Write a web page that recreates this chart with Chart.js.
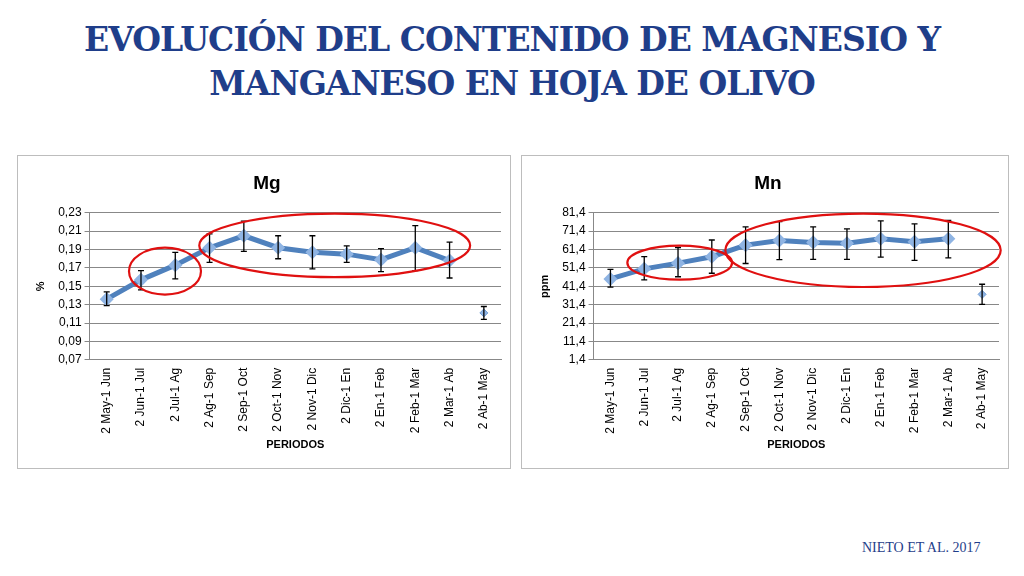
<!DOCTYPE html>
<html><head><meta charset="utf-8">
<script src="https://cdn.jsdelivr.net/npm/chart.js@4"></script>
<style>
body{margin:0;width:1024px;height:576px;background:#fff;position:relative;overflow:hidden;font-family:"Liberation Sans",sans-serif}
h1{position:absolute;left:0;width:1024px;top:18px;margin:0;text-align:center;font-family:"DejaVu Serif",serif;font-weight:bold;font-size:33px;line-height:44px;color:#1f3e8a;letter-spacing:-1px}
.box{position:absolute;top:155px;height:312px;border:1px solid #bdbdbd;background:#fff}
#foot{position:absolute;left:862px;top:540px;font-family:"Liberation Serif",serif;font-size:14px;color:#1f3e8a}
</style></head><body>
<h1>EVOLUCIÓN DEL CONTENIDO DE MAGNESIO Y<br>MANGANESO EN HOJA DE OLIVO</h1>
<div class="box" style="left:17px;width:492px"><canvas id="mg" width="492" height="312"></canvas></div>
<div class="box" style="left:521px;width:486px"><canvas id="mn" width="486" height="312"></canvas></div>
<div id="foot">NIETO ET AL. 2017</div>
<script>
const periods = ["2 May-1 Jun","2 Jun-1 Jul","2 Jul-1 Ag","2 Ag-1 Sep","2 Sep-1 Oct","2 Oct-1 Nov","2 Nov-1 Dic","2 Dic-1 En","2 En-1 Feb","2 Feb-1 Mar","2 Mar-1 Ab","2 Ab-1 May"];
const mgValues = [0.136,0.157,0.173,0.192,0.205,0.192,0.187,0.185,0.179,0.192,0.178,0.121];
const mgHigh = [0.144,0.167,0.187,0.207,0.221,0.205,0.205,0.194,0.191,0.216,0.198,0.128];
const mgLow = [0.129,0.146,0.158,0.176,0.188,0.180,0.169,0.176,0.166,0.167,0.159,0.114];
const mnValues = [45.4,50.9,54.0,57.5,63.8,66.3,65.3,64.8,67.3,65.6,67.3,37.0];
const mnHigh = [50.6,57.5,62.5,66.6,73.7,76.6,73.7,72.7,77.0,75.4,77.3,42.5];
const mnLow = [40.9,44.9,46.6,48.5,53.8,55.9,56.1,56.1,57.3,55.5,56.9,31.5];
const mgTicks = [0.07,0.09,0.11,0.13,0.15,0.17,0.19,0.21,0.23];
const mnTicks = [1.4,11.4,21.4,31.4,41.4,51.4,61.4,71.4,81.4];
// ellipses: [first index, last index, low value, high value]
const mgCircles = [[0.65,2.75,0.141,0.192],[2.7,10.6,0.160,0.229]];
const mnCircles = [[0.5,3.6,45,63.5],[3.4,11.55,41,81]];

const errorBars = {
  id: "errorBars",
  afterDatasetsDraw(chart, args, opts) {
    const {ctx, scales: {x, y}} = chart;
    ctx.save();
    ctx.strokeStyle = "#000"; ctx.lineWidth = 1.3;
    opts.high.forEach((h, i) => {
      const px = x.getPixelForValue(i), t = y.getPixelForValue(h), b = y.getPixelForValue(opts.low[i]);
      ctx.beginPath();
      ctx.moveTo(px, t); ctx.lineTo(px, b);
      ctx.moveTo(px - 3, t); ctx.lineTo(px + 3, t);
      ctx.moveTo(px - 3, b); ctx.lineTo(px + 3, b);
      ctx.stroke();
    });
    ctx.strokeStyle = "#e01010"; ctx.lineWidth = 2.2;
    opts.circles.forEach(c => {
      const x0 = x.getPixelForValue(c[0]), x1 = x.getPixelForValue(c[1]);
      const y0 = y.getPixelForValue(c[2]), y1 = y.getPixelForValue(c[3]);
      ctx.beginPath();
      ctx.ellipse((x0 + x1) / 2, (y0 + y1) / 2, (x1 - x0) / 2, Math.abs(y0 - y1) / 2, 0, 0, Math.PI * 2);
      ctx.stroke();
    });
    ctx.restore();
  }
};

function makeChart(id, title, yTitle, vals, high, low, ticks, circles, fmt) {
  const line = vals.map((v, i) => i < vals.length - 1 ? v : null);
  const last = vals.map((v, i) => i === vals.length - 1 ? v : null);
  new Chart(document.getElementById(id), {
    type: "line",
    plugins: [errorBars],
    data: {
      labels: periods,
      datasets: [
        {data: line, borderColor: "#4f81bd", borderWidth: 5, pointStyle: "rectRot", pointRadius: 3.5, pointBackgroundColor: "#8fb4e3", pointBorderColor: "#8fb4e3"},
        {data: last, showLine: false, pointStyle: "rectRot", pointRadius: 4, pointBackgroundColor: "#8fb4e3", pointBorderColor: "#6f9bd3"}
      ]
    },
    options: {
      responsive: false, animation: false,
      layout: {padding: {left: 12, right: 6, top: 8, bottom: 12}},
      plugins: {
        legend: {display: false}, tooltip: {enabled: false},
        title: {display: true, text: title, color: "#000", font: {size: 19, weight: "bold", family: "Liberation Sans"}, padding: {top: 8, bottom: 18}},
        errorBars: {high, low, circles}
      },
      scales: {
        x: {offset: true,
          grid: {display: false, drawTicks: true, color: "#888", tickLength: 5, offset: true},
          border: {color: "#888"},
          ticks: {color: "#000", font: {size: 12}, minRotation: 90, maxRotation: 90, autoSkip: false},
          title: {display: true, text: "PERIODOS", color: "#000", font: {size: 11, weight: "bold"}, padding: {top: 2}}},
        y: {min: ticks[0], max: ticks[ticks.length - 1],
          afterBuildTicks: s => { s.ticks = ticks.map(v => ({value: v})); },
          grid: {color: "#888", tickLength: 5},
          border: {color: "#888"},
          ticks: {color: "#000", font: {size: 12}, callback: v => fmt(v)},
          title: {display: true, text: yTitle, color: "#000", font: {size: 11, weight: "bold"}, padding: {bottom: 8}}}
      }
    }
  });
}
makeChart("mg", "Mg", "%", mgValues, mgHigh, mgLow, mgTicks, mgCircles, v => v.toFixed(2).replace(".", ","));
makeChart("mn", "Mn", "ppm", mnValues, mnHigh, mnLow, mnTicks, mnCircles, v => v.toFixed(1).replace(".", ","));
</script>
</body></html>
